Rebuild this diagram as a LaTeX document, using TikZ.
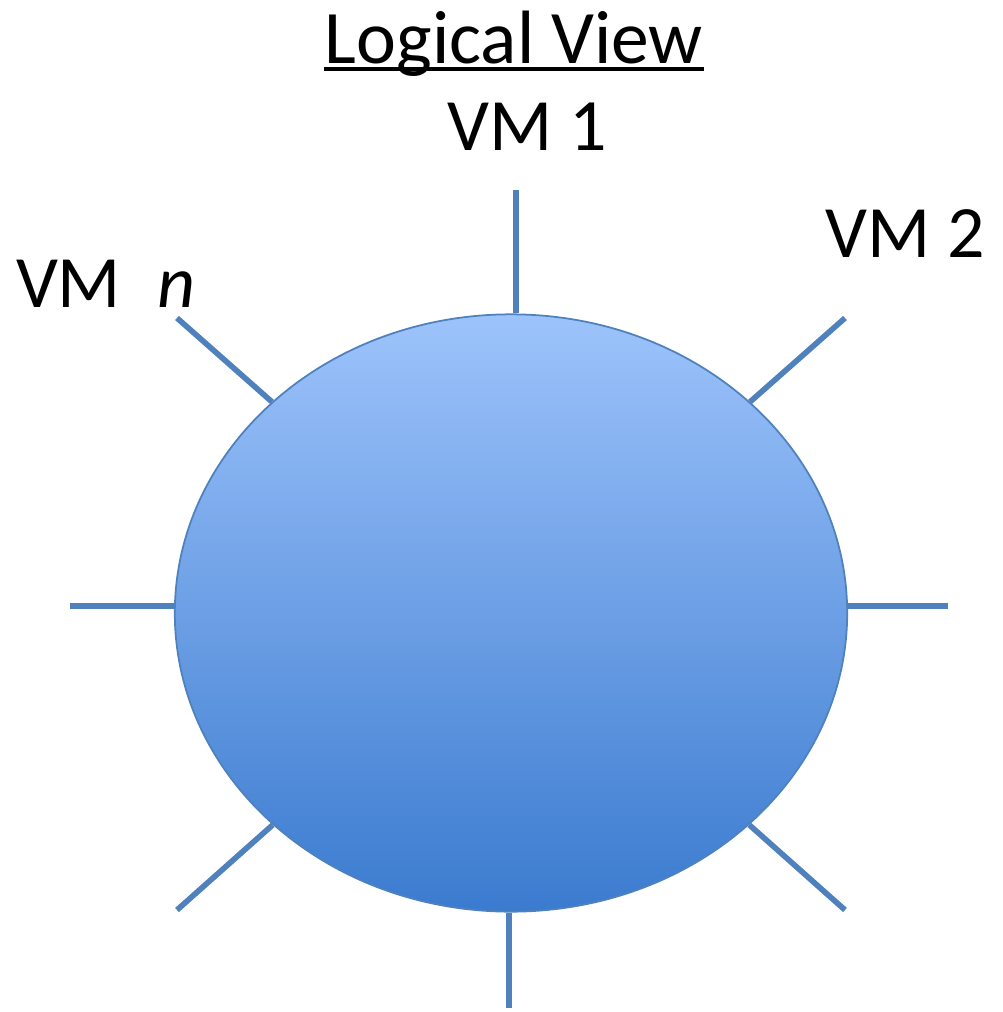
\documentclass[tikz,border=0pt]{standalone}
\usepackage{fontspec}
\setmainfont{Carlito}
\usepackage{tikz}
\usetikzlibrary{shapes.geometric, positioning, calc}

\definecolor{spokeblue}{HTML}{4F81BD}
\definecolor{hubtop}{HTML}{9DC3FB}
\definecolor{hubbot}{HTML}{3B7BCF}

\begin{document}
\begin{tikzpicture}[
        x=0.01cm, y=-0.01cm,
        every node/.style={align=center, inner sep=0pt},
        hub/.style={
            ellipse, draw=spokeblue, line width=0.5pt,
            top color=hubtop, bottom color=hubbot,
            minimum width=6.72cm, minimum height=5.97cm
        },
        spoke/.style={draw=spokeblue, line width=1.6pt},
        uline/.style={draw=black, line width=1.1pt},
        vmlabel/.style={anchor=base, font=\fontsize{21}{25}\selectfont},
        title/.style={anchor=base, font=\fontsize{21.5}{26}\selectfont}
    ]
    \useasboundingbox (0,0) rectangle (1002,1012);
    \node[hub] (hub) at (511,613) {};
    % outer ends of the spokes
    \coordinate (eN)  at (516,190);
    \coordinate (eNE) at (845,318);
    \coordinate (eE)  at (948,606);
    \coordinate (eSE) at (845,910);
    \coordinate (eS)  at (509,1008);
    \coordinate (eSW) at (177,910);
    \coordinate (eW)  at (70,606);
    \coordinate (eNW) at (177,318);
    \draw[spoke] (hub.north -| eN) -- (eN);
    \draw[spoke] (hub) -- (eNE);
    \draw[spoke] (hub.east |- eE) -- (eE);
    \draw[spoke] (hub) -- (eSE);
    \draw[spoke] (hub.south -| eS) -- (eS);
    \draw[spoke] (hub) -- (eSW);
    \draw[spoke] (hub.west |- eW) -- (eW);
    \draw[spoke] (hub) -- (eNW);
    % labels
    \node[title] (ttl) at (514,64) {Logical View};
    \draw[uline] ($(ttl.base west)+(0,5)$) -- ($(ttl.base east)+(0,5)$);
    \node[vmlabel] (vm1) at (527,150) {VM 1};
    \node[vmlabel] (vm2) at (905,257) {VM 2};
    \node[vmlabel] (vmn) at (106,307) {VM\hspace{0.5em}\textit{n}};
\end{tikzpicture}
\end{document}
